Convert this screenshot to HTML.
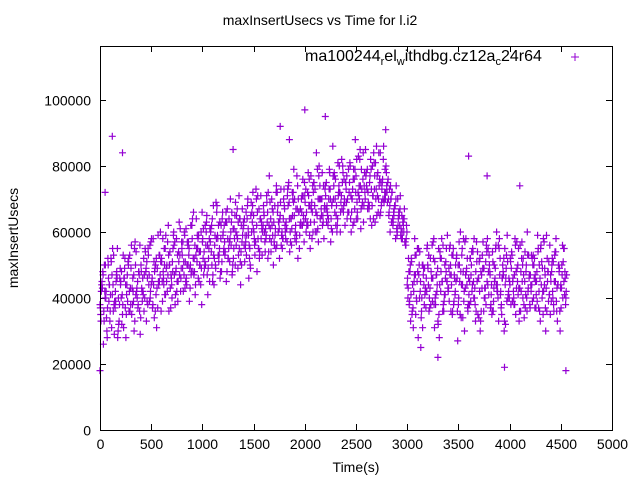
<!DOCTYPE html>
<html><head><meta charset="utf-8"><style>
html,body{margin:0;padding:0;background:#fff;}
svg{display:block;font-family:"Liberation Sans",sans-serif;}
</style></head><body>
<svg id="chart" width="640" height="480" viewBox="0 0 640 480" xmlns="http://www.w3.org/2000/svg">
<rect width="640" height="480" fill="#fff"/>
<text x="320" y="25" text-anchor="middle" font-size="14">maxInsertUsecs vs Time for l.i2</text>
<text x="356" y="472" text-anchor="middle" font-size="14">Time(s)</text>
<text transform="translate(18,238) rotate(-90)" text-anchor="middle" font-size="14">maxInsertUsecs</text>
<g>
<text x="305" y="61" font-size="16">ma100244<tspan font-size="11" dy="4">r</tspan><tspan dy="-4">el</tspan><tspan font-size="11" dy="4">w</tspan><tspan dy="-4">ithdbg.cz12a</tspan><tspan font-size="11" dy="4">c</tspan><tspan dy="-4">24r64</tspan></text>
<path d="M571 57h8M575 53v8" stroke="#9400d3" stroke-width="1"/>
</g>
<g id="axes"></g>
<g id="points"></g>
<rect x="100.5" y="46.5" width="512" height="384" fill="none" stroke="#000"/>
</svg>
<script>
// values in thousands of usecs; each series sampled every 20 s
const seriesA=[38,45,33,42,50,36,41,29,47,40,44,35,49,41,52,38,46,33,43,48,50,42,55,39,47,44,58,36,49,45,52,46,41,57,50,44,60,48,39,53,55,47,61,50,43,58,52,64,46,54,57,49,63,52,60,45,56,66,51,58,59,53,48,64,56,61,50,67,55,62,63,55,68,52,60,65,57,71,54,61,66,58,52,69,62,57,72,60,65,55,68,61,74,57,65,70,59,66,63,76,71,62,68,77,60,73,65,80,67,63,74,66,79,61,70,76,64,72,82,68,75,66,81,70,63,77,72,85,68,74,78,69,64,80,73,86,70,66,76,72,74,65,70,62,68,59,66,61,64,57,44,38,52,31,47,55,40,36,49,43,50,37,46,58,41,33,54,45,39,48,42,56,35,47,52,38,60,44,30,49,46,39,55,43,51,34,48,57,40,45,53,41,36,49,44,58,38,47,32,51,45,54,40,35,50,43,57,38,48,42,37,52,46,41,55,33,49,44,59,39,47,42,53,36,50,44,40,48];
const seriesB=[35,48,42,30,39,52,44,37,46,33,40,53,37,47,42,56,39,50,45,36,43,52,48,38,56,45,51,41,59,47,45,55,49,62,43,51,47,58,54,42,49,59,44,53,62,48,56,51,45,60,52,62,47,58,54,68,50,59,55,48,54,63,58,51,66,55,60,49,64,57,56,66,61,50,63,58,70,55,64,60,60,71,54,64,59,68,56,63,73,58,62,57,69,64,72,60,67,55,70,65,64,72,59,69,75,66,61,74,70,58,67,62,73,69,78,65,71,60,75,70,69,79,64,73,67,82,71,61,76,72,73,67,79,71,63,77,74,68,82,70,69,73,63,66,58,70,62,65,60,56,40,48,35,45,53,28,42,50,38,46,44,52,39,31,47,55,42,36,50,45,49,36,53,41,46,57,34,48,43,52,38,50,45,33,54,42,47,36,51,44,48,35,43,56,40,52,46,30,49,41,52,39,47,43,55,36,50,45,40,53,44,50,37,48,42,56,35,47,52,41,39,51,45,33,49,43,55,38];
const seriesC=[42,26,50,37,44,31,53,39,28,46,32,46,28,51,36,43,30,54,38,29,39,47,33,53,42,37,48,31,44,51,58,41,50,36,47,55,38,45,63,49,42,51,57,39,48,66,44,55,50,38,47,56,41,61,50,44,69,53,46,64,62,45,52,70,48,58,65,53,44,59,51,59,46,65,72,53,48,67,58,62,54,63,77,57,50,61,66,52,59,70,58,73,54,61,79,67,52,62,71,57,60,78,55,66,63,84,57,70,62,68,63,70,57,86,66,60,74,69,78,62,64,72,60,76,88,66,70,79,63,85,67,75,62,84,70,78,65,73,69,80,76,60,72,67,74,64,71,58,67,62,52,33,44,58,39,47,25,50,41,55,36,48,57,40,44,28,52,38,46,59,55,44,38,50,27,45,53,39,58,36,52,42,58,36,46,30,53,40,56,48,37,54,45,60,33,42,50,55,39,46,38,46,58,49,33,42,52,37,60,47,53,40,45,59,36,51,42,30,48,56,50,36,58,44,30,47,55,42];
const seriesD=[37,43,50,34,46,41,55,39,48,32,45,38,52,44,36,49,42,57,40,47,48,41,54,46,39,58,44,50,37,53,51,44,59,47,54,40,56,49,45,61,53,60,46,57,50,64,48,55,59,44,58,51,65,55,61,47,59,68,53,62,60,54,67,57,63,52,69,58,64,50,62,57,70,55,66,60,73,58,64,53,65,59,72,61,67,56,74,63,69,58,67,61,75,64,70,58,77,66,62,71,69,63,76,67,72,60,79,70,65,74,71,65,78,68,74,62,81,72,67,76,73,66,80,70,76,64,83,74,69,78,74,68,82,71,77,65,84,75,70,79,72,66,70,63,68,60,65,58,62,56,46,39,51,42,35,48,54,40,44,37,49,43,56,38,47,32,52,45,41,55,43,50,36,46,53,40,48,34,57,44,41,47,54,38,45,51,36,49,43,58,50,44,39,55,42,47,35,52,46,40,44,53,38,48,41,56,45,34,50,43,47,39,52,45,37,55,42,49,36,51,45,40,54,43,48,37,51,46];
const seriesE=[44,36,40,52,33,47,38,45,30,49,41,46,35,50,43,38,55,42,48,34,46,40,51,44,57,38,49,43,53,36,48,55,42,50,46,59,41,53,47,57,51,45,56,49,62,47,53,58,50,66,54,60,49,57,64,52,58,62,48,66,57,63,55,60,50,65,59,71,54,61,59,64,56,69,61,57,66,52,63,68,61,66,58,70,63,55,68,64,60,73,63,68,60,72,65,57,70,67,62,75,66,71,63,74,68,60,77,70,65,73,68,73,64,77,70,62,80,71,66,75,70,75,66,79,72,64,82,73,68,77,72,77,68,81,73,66,84,75,70,78,70,74,64,68,61,66,59,63,57,60,48,41,37,53,45,50,34,47,42,56,40,46,52,38,49,44,58,36,51,43,47,53,39,45,50,35,55,42,48,38,52,44,40,57,46,33,49,43,54,41,38,51,46,42,55,37,48,44,59,40,49,42,56,45,36,52,47,41,53,38,44,50,37,54,46,40,57,43,48,35,52,45,39,50,43,56,41,47];
const seriesF=[33,47,40,28,44,51,36,42,55,38,48,31,44,39,53,35,47,41,37,56,42,36,49,55,40,46,34,52,45,60,39,50,45,53,37,48,57,42,51,46,57,43,50,55,47,52,41,59,54,49,61,50,56,45,62,53,49,58,63,51,55,66,52,58,47,61,56,63,51,67,64,53,59,49,68,56,62,55,71,60,57,69,62,54,66,59,72,61,56,64,60,71,64,56,69,62,74,59,66,63,73,62,68,58,75,66,70,64,78,67,75,64,70,60,77,68,72,66,80,69,77,66,71,62,79,69,74,67,84,70,79,68,73,64,81,71,76,69,86,72,75,68,72,65,70,62,67,60,64,58,43,50,36,47,40,55,45,31,49,42,53,38,46,51,42,35,48,56,41,45,39,47,55,42,36,50,44,58,47,37,45,54,40,48,35,52,43,49,38,55,47,36,50,44,56,41,46,33,53,42,51,45,38,57,43,48,40,54,36,46,42,53,47,39,50,44,58,37,45,41,48,38,54,44,36,50,45,40];
const seriesStarts=[0,7,13,3,17,10];
const outlierTimes=[120,220,50,1760,2000,2200,1300,3950,3600,4100,3780,4550,0,2790,1850,3300];
const outlierValues=[89,84,72,92,97,95,85,19,83,74,77,18,18,91,88,22];
const xTicks=[0,500,1000,1500,2000,2500,3000,3500,4000,4500,5000];
const yTicks=[0,20000,40000,60000,80000,100000];
const STEP=20;
const X0=100,X1=612,Y0=430,Y1=46,XMAX=5000,YMAX=116364;
const sx=t=>X0+(t/XMAX)*(X1-X0);
const sy=v=>Y0-(v/YMAX)*(Y0-Y1);
const NS="http://www.w3.org/2000/svg";
const axes=document.getElementById('axes');
const pts=document.getElementById('points');
function mk(tag,attrs,parent){const e=document.createElementNS(NS,tag);for(const k in attrs)e.setAttribute(k,attrs[k]);parent.appendChild(e);return e;}
xTicks.forEach(t=>{const x=Math.round(sx(t))+0.5;
const p=mk('path',{d:`M${x} ${Y0}v-6M${x} ${Y1}v6`,stroke:'#000'},axes);


const tx=mk('text',{x:x,y:Y0+19,'text-anchor':'middle','font-size':14},axes);tx.textContent=t;

});
yTicks.forEach(v=>{const y=Math.round(sy(v))+0.5;
const p=mk('path',{d:`M${X0} ${y}h6M${X1} ${y}h-6`,stroke:'#000'},axes);


const tx=mk('text',{x:X0-9,y:y+5,'text-anchor':'end','font-size':14},axes);tx.textContent=v;

});
let d='';
function add(t,v){const x=sx(t),y=sy(v*1000);d+=`M${(x-3.5).toFixed(1)} ${y.toFixed(1)}h7M${x.toFixed(1)} ${(y-3.5).toFixed(1)}v7`;}
[seriesA,seriesB,seriesC,seriesD,seriesE,seriesF].forEach((s,k)=>s.forEach((v,i)=>add(seriesStarts[k]+i*STEP,v)));
outlierTimes.forEach((t,i)=>add(t,outlierValues[i]));
const path=mk('path',{d:d,stroke:'#9400d3','stroke-width':1.2,fill:'none'},pts);


</script>
</body></html>
